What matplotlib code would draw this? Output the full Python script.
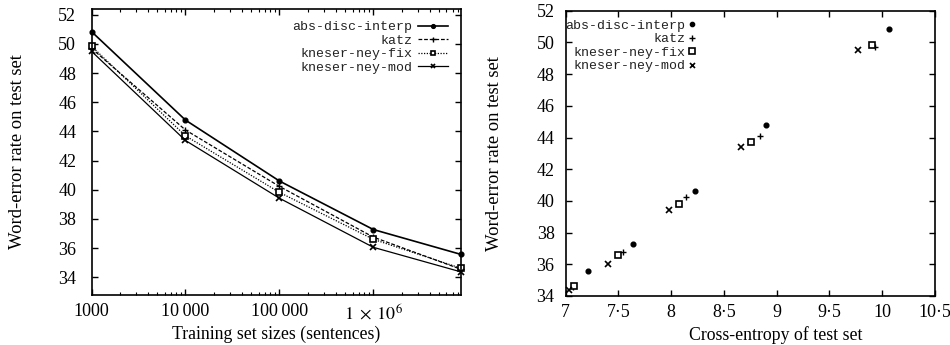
import matplotlib
matplotlib.use('Agg')
import matplotlib.pyplot as plt
from matplotlib.ticker import FixedLocator, FixedFormatter, LogLocator, NullFormatter

# ---------------- data ----------------
series_names = ['abs-disc-interp', 'katz', 'kneser-ney-fix', 'kneser-ney-mod']
train_sizes = [1e3, 1e4, 1e5, 1e6, 8.5e6]

wer_abs = [50.85, 44.78, 40.60, 37.27, 35.57]
wer_katz = [49.70, 44.10, 40.23, 36.75, 34.55]
wer_knfix = [49.85, 43.70, 39.82, 36.60, 34.62]
wer_knmod = [49.50, 43.38, 39.42, 36.05, 34.37]

xent_abs = [10.065, 8.90, 8.226, 7.635, 7.21]
xent_katz = [9.93, 8.84, 8.14, 7.54, 7.07]
xent_knfix = [9.91, 8.757, 8.07, 7.50, 7.08]
xent_knmod = [9.774, 8.66, 7.98, 7.40, 7.03]

x_tick_values = [1e3, 1e4, 1e5, 1e6]
x_tick_labels = ['1000', '10\u2009000', '100\u2009000', r'$1\;\times\;10^{6}$']
xent_tick_values = [7, 7.5, 8, 8.5, 9, 9.5, 10, 10.5]
xent_tick_labels = ['7', '7\u00b75', '8', '8\u00b75', '9', '9\u00b75', '10', '10\u00b75']
y_tick_values = [34, 36, 38, 40, 42, 44, 46, 48, 50, 52]
y_tick_labels = ['34', '36', '38', '40', '42', '44', '46', '48', '50', '52']

x_label_left = 'Training set sizes (sentences)'
x_label_right = 'Cross-entropy of test set'
y_label = 'Word-error rate on test set'

# ---------------- styles ----------------
plt.rcParams['font.family'] = ['Liberation Serif', 'DejaVu Serif']
plt.rcParams['mathtext.fontset'] = 'stix'

styles = [
    dict(color='black', lw=1.2, ls='-', marker='o', ms=3.4, mfc='black'),
    dict(color='black', lw=0.9, ls=(0, (3, 1.5)), marker='+', ms=4.5, mew=1.0),
    dict(color='black', lw=0.9, ls=(0, (1, 1.2)), marker='s', ms=4.2, mfc='white', mew=1.2),
    dict(color='black', lw=0.9, ls='-', marker='x', ms=4.0, mew=1.2),
]

wer_all = [wer_abs, wer_katz, wer_knfix, wer_knmod]
xent_all = [xent_abs, xent_katz, xent_knfix, xent_knmod]

fig = plt.figure(figsize=(9.5, 3.45), dpi=100)
ax1 = fig.add_axes([91.5 / 950, (345 - 295) / 345, 369.2 / 950, 286 / 345])
ax2 = fig.add_axes([565.7 / 950, (345 - 296) / 345, 369.0 / 950, 285.3 / 345])

legend_font = dict(family=['Liberation Mono', 'DejaVu Sans Mono'], size=9.5)
tick_size = 13
xlabel_size = 12.8
ylabel_size = 13.4

# Left plot
for name, ys, st in zip(series_names, wer_all, styles):
    ax1.plot(train_sizes, ys, label=name, clip_on=False, **st)
ax1.set_xscale('log')
ax1.set_xlim(train_sizes[0], train_sizes[-1])
ax1.set_ylim(32.78, 52.4)
ax1.xaxis.set_major_locator(FixedLocator(x_tick_values))
ax1.xaxis.set_major_formatter(FixedFormatter(x_tick_labels))
ax1.xaxis.set_minor_locator(LogLocator(base=10, subs=range(2, 10)))
ax1.xaxis.set_minor_formatter(NullFormatter())
ax1.yaxis.set_major_locator(FixedLocator(y_tick_values))
ax1.yaxis.set_major_formatter(FixedFormatter(y_tick_labels))
ax1.set_xlabel(x_label_left, fontsize=xlabel_size)
ax1.set_ylabel(y_label, fontsize=ylabel_size)
ax1.xaxis.set_label_coords(0.5, -0.108)
ax1.yaxis.set_label_coords(-0.177, 0.5)
leg1 = ax1.legend(loc='upper right', bbox_to_anchor=(0.966, 0.958), borderaxespad=0,
                  borderpad=0, frameon=False, markerfirst=False, handlelength=2.3,
                  handletextpad=0.4, labelspacing=0.1, prop=legend_font, markerscale=0.8)
for t in leg1.get_texts():
    t.set_color('#222222')

# Right plot
for name, xs, ys, st in zip(series_names, xent_all, wer_all, styles):
    s = dict(st)
    s['ls'] = 'none'
    ax2.plot(xs, ys, label=name, clip_on=False, **s)
ax2.set_xlim(7, 10.5)
ax2.set_ylim(34, 52)
ax2.xaxis.set_major_locator(FixedLocator(xent_tick_values))
ax2.xaxis.set_major_formatter(FixedFormatter(xent_tick_labels))
ax2.yaxis.set_major_locator(FixedLocator(y_tick_values))
ax2.yaxis.set_major_formatter(FixedFormatter(y_tick_labels))
ax2.set_xlabel(x_label_right, fontsize=xlabel_size)
ax2.set_ylabel(y_label, fontsize=ylabel_size)
ax2.xaxis.set_label_coords(0.57, -0.105)
ax2.yaxis.set_label_coords(-0.169, 0.5)
leg2 = ax2.legend(loc='upper right', bbox_to_anchor=(0.352, 0.969), borderaxespad=0,
                  borderpad=0, frameon=False, markerfirst=False, handlelength=0.6,
                  handletextpad=0.2, labelspacing=0.1, prop=legend_font, markerscale=0.9)
for t in leg2.get_texts():
    t.set_color('#222222')

for ax in (ax1, ax2):
    for sp in ax.spines.values():
        sp.set_linewidth(1.2)
    ax.tick_params(which='major', direction='in', length=4.5, width=1.0,
                   top=True, right=True, labelsize=tick_size)
    ax.tick_params(which='minor', direction='in', length=2.5, width=0.8,
                   top=True, right=True)
    ax.tick_params(axis='x', pad=6)
ax1.tick_params(axis='y', pad=11)
ax2.tick_params(axis='y', pad=8)

fig.savefig('out.png', dpi=100)
